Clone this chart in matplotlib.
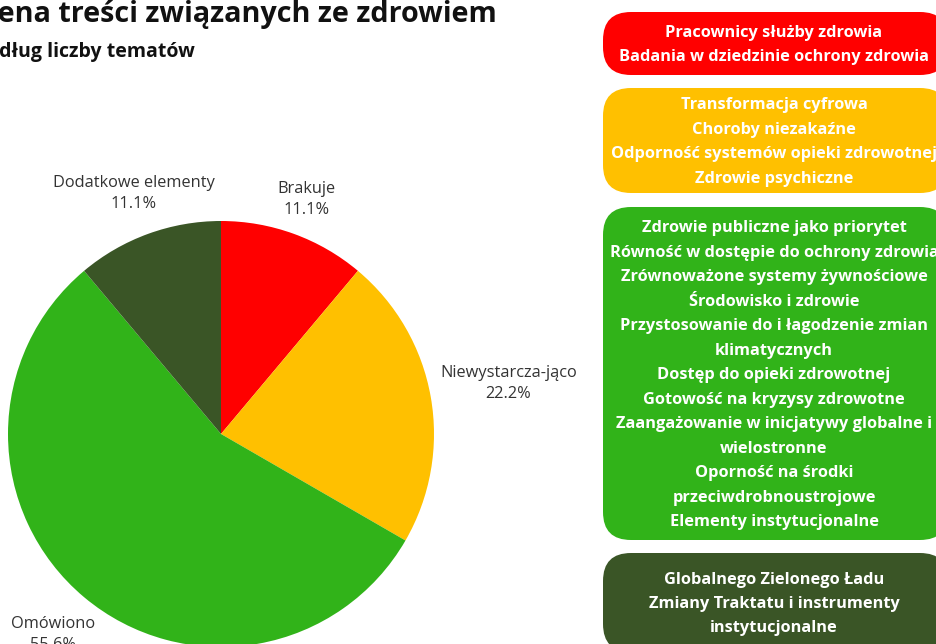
import matplotlib
matplotlib.use("Agg")
import matplotlib.pyplot as plt
from matplotlib.patches import FancyBboxPatch
import numpy as np

plt.rcParams['font.family'] = ['Open Sans', 'DejaVu Sans']

# ---- data ----
title = "Ocena treści związanych ze zdrowiem"
subtitle = "Według liczby tematów"
categories = ["Brakuje", "Niewystarcza-jąco", "Omówiono", "Dodatkowe elementy"]
counts = [1, 2, 5, 1]
colors = ["#FF0000", "#FFC000", "#31B319", "#3A5526"]

box_red = ["Pracownicy służby zdrowia", "Badania w dziedzinie ochrony zdrowia"]
box_yellow = ["Transformacja cyfrowa", "Choroby niezakaźne",
              "Odporność systemów opieki zdrowotnej", "Zdrowie psychiczne"]
box_green = ["Zdrowie publiczne jako priorytet",
             "Równość w dostępie do ochrony zdrowia",
             "Zrównoważone systemy żywnościowe",
             "Środowisko i zdrowie",
             "Przystosowanie do i łagodzenie zmian",
             "klimatycznych",
             "Dostęp do opieki zdrowotnej",
             "Gotowość na kryzysy zdrowotne",
             "Zaangażowanie w inicjatywy globalne i",
             "wielostronne",
             "Oporność na środki",
             "przeciwdrobnoustrojowe",
             "Elementy instytucjonalne"]
box_dark = ["Globalnego Zielonego Ładu", "Zmiany Traktatu i instrumenty",
            "instytucjonalne"]

W, H = 936, 644
fig = plt.figure(figsize=(W / 100, H / 100), dpi=100)
fig.patch.set_facecolor("white")

# overlay axes in pixel coordinates (y down)
ov = fig.add_axes([0, 0, 1, 1])
ov.set_xlim(0, W)
ov.set_ylim(H, 0)
ov.axis("off")

# ---- pie ----
cx, cy, R = 221, 434, 213
ax = fig.add_axes([(cx - R) / W, (H - cy - R) / H, 2 * R / W, 2 * R / H])
wedges, _ = ax.pie(counts, colors=colors, startangle=90, counterclock=False,
                   radius=1, wedgeprops=dict(linewidth=0))
ax.set_xlim(-1, 1)
ax.set_ylim(-1, 1)
ax.set_aspect("auto")
ax.axis("off")

total = sum(counts)
label_dist = [1.17, 1.37, 1.23, 1.20]
for w, cat, c, d in zip(wedges, categories, counts, label_dist):
    ang = np.deg2rad((w.theta1 + w.theta2) / 2)
    ax.text(d * np.cos(ang), d * np.sin(ang),
            f"{cat}\n{100 * c / total:.1f}%", ha="center", va="center",
            fontsize=11.8, color="#333333", linespacing=1.4, clip_on=False)

# ---- titles ----
ov.text(497, 22, title, ha="right", va="baseline", fontsize=20.7,
        fontweight="bold", color="#111111")
ov.text(195, 57, subtitle, ha="right", va="baseline", fontsize=14,
        fontweight="bold", color="#111111")

# ---- boxes ----
boxes = [box_red, box_yellow, box_green, box_dark]
box_tops = [12, 88, 207, 553]
box_bottoms = [75, 193, 540, 652]
step = 24.5
for lines, col, top, bot in zip(boxes, colors, box_tops, box_bottoms):
    p = FancyBboxPatch((603 + 28, top + 28), 345 - 56, (bot - top) - 56,
                       boxstyle="round,pad=28", facecolor=col,
                       edgecolor="none", clip_on=False)
    ov.add_patch(p)
    mid = (top + bot) / 2 + 1.5
    n = len(lines)
    for i, ln in enumerate(lines):
        y = mid + (i - (n - 1) / 2) * step
        ov.text(774, y, ln, ha="center", va="center", fontsize=11.8,
                fontweight="bold", color="white")

fig.savefig("out.png", dpi=100)
